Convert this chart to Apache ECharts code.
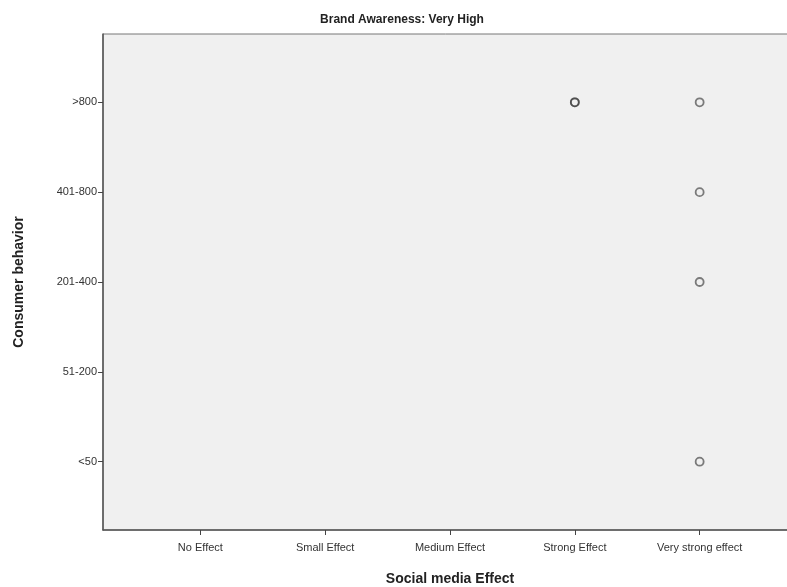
<!DOCTYPE html>
<html>
<head>
<meta charset="utf-8">
<script src="https://cdn.jsdelivr.net/npm/echarts@6/dist/echarts.min.js"></script>
<style>html,body{margin:0;padding:0;background:#fff}#c{width:787px;height:587px}</style>
</head>
<body>
<div id="c"></div>
<script>
const titleText = "Brand Awareness: Very High";
const xCategories = ["No Effect", "Small Effect", "Medium Effect", "Strong Effect", "Very strong effect"];
const yCategories = ["<50", "51-200", "201-400", "401-800", ">800"];
const xName = "Social media Effect";
const yName = "Consumer behavior";
// observations: [social media effect, consumer behavior] (duplicate = two cases)
const pointsX = ["Strong Effect", "Strong Effect", "Very strong effect", "Very strong effect", "Very strong effect", "Very strong effect"];
const pointsY = [">800", ">800", ">800", "401-800", "201-400", "<50"];

const data = pointsX.map((x, i) => [xCategories.indexOf(x), yCategories.indexOf(pointsY[i])]);
const idx = a => a.map((_, i) => i);

const chart = echarts.init(document.getElementById('c'), null, {renderer: 'canvas'});
const labelFont = {fontFamily: 'Liberation Sans, Arial, sans-serif', fontSize: 11, color: '#333'};
chart.setOption({
  animation: false,
  backgroundColor: '#ffffff',
  title: {
    text: titleText, left: 397, top: 9, textAlign: 'center',
    textStyle: {fontFamily: 'Liberation Sans, Arial, sans-serif', fontSize: 12, fontWeight: 'bold', color: '#222'}
  },
  grid: {left: 103, right: -10, top: 34, bottom: 57, outerBoundsMode: 'none', containLabel: false,
         show: true, backgroundColor: '#f0f0f0', borderColor: '#777', borderWidth: 1},
  xAxis: {
    type: 'value', min: -0.78, max: 4.78,
    name: xName, nameLocation: 'middle', nameGap: 42,
    nameTextStyle: {fontFamily: 'Liberation Sans, Arial, sans-serif', fontSize: 14, fontWeight: 'bold', color: '#222'},
    axisLine: {show: true, onZero: false, lineStyle: {color: '#555', width: 1.5}},
    axisTick: {show: true, length: 5, customValues: idx(xCategories), lineStyle: {color: '#444'}},
    axisLabel: Object.assign({customValues: idx(xCategories), margin: 12, formatter: v => xCategories[Math.round(v)]}, labelFont),
    splitLine: {show: false}
  },
  yAxis: {
    type: 'value', min: -0.76, max: 4.76,
    name: yName, nameLocation: 'middle', nameGap: 77, nameRotate: 90,
    nameTextStyle: {fontFamily: 'Liberation Sans, Arial, sans-serif', fontSize: 14, fontWeight: 'bold', color: '#222'},
    axisLine: {show: true, onZero: false, lineStyle: {color: '#555', width: 1.5}},
    axisTick: {show: true, length: 5, customValues: idx(yCategories), lineStyle: {color: '#444'}},
    axisLabel: Object.assign({customValues: idx(yCategories), margin: 6, formatter: v => yCategories[Math.round(v)]}, labelFont),
    splitLine: {show: false}
  },
  series: [{
    type: 'scatter',
    data: data,
    symbol: 'circle',
    symbolSize: 8,
    itemStyle: {color: 'rgba(0,0,0,0)', borderColor: 'rgba(55,55,55,0.8)', borderWidth: 1.8}
  }]
});
</script>
</body>
</html>
